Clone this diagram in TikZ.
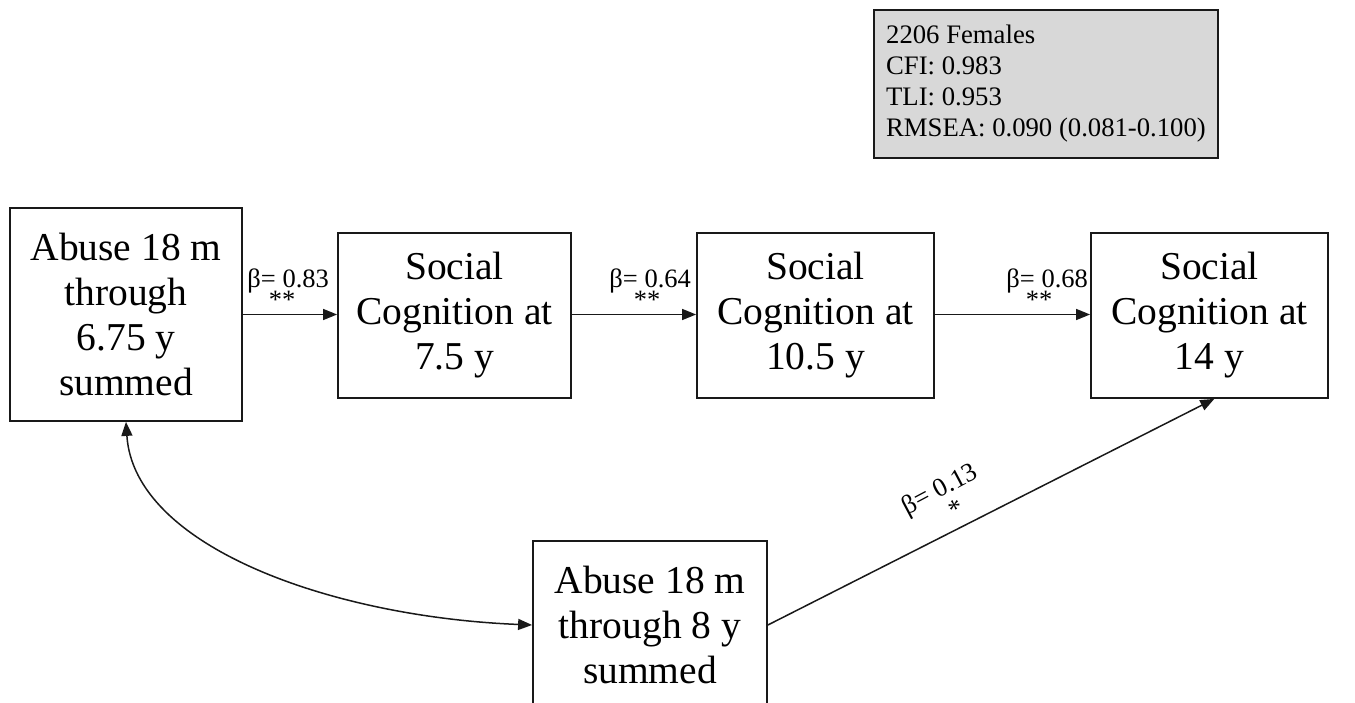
\documentclass[tikz,border=0pt]{standalone}
\usepackage{fontspec}
\setmainfont{Liberation Serif}
\usetikzlibrary{arrows.meta,calc}
\definecolor{statfill}{RGB}{216,216,216}
\definecolor{linecol}{RGB}{25,25,25}
\begin{document}
\begin{tikzpicture}[x=1pt,y=1pt,
  box/.style={draw=linecol, line width=1.8pt, align=center, inner sep=0pt,
    font=\fontsize{39.5}{45}\selectfont},
  tip/.tip={Triangle[length=14pt,width=11pt]},
  arr/.style={draw=linecol, line width=1.5pt, -tip},
  arr2/.style={draw=linecol, line width=1.5pt, tip-tip},
  lbl/.style={align=center, inner sep=0pt,
    font={\fontsize{26.5}{21}\selectfont\lineskiplimit=-100pt\lineskip=0pt}}]
\useasboundingbox (0,0) rectangle (1355,702);
\clip (0,0) rectangle (1355,702);

% stats box
\node[draw=linecol, line width=1.6pt, fill=statfill, minimum width=344pt,
  minimum height=148pt, inner xsep=8pt, inner ysep=0pt,
  align=left, font=\fontsize{26.7}{31}\selectfont] (fit) at (1046,618)
  {2206 Females\\CFI: 0.983\\TLI: 0.953\\RMSEA: 0.090 (0.081-0.100)};

% boxes
\node[box, minimum width=232pt, minimum height=213pt] (b1) at (126,387.5)
  {Abuse 18 m\\through\\6.75 y\\summed};
\node[box, minimum width=233pt, minimum height=165pt] (b2) at (454.5,386.5)
  {Social\\Cognition at\\7.5 y};
\node[box, minimum width=237pt, minimum height=165pt] (b3) at (815.5,386.5)
  {Social\\Cognition at\\10.5 y};
\node[box, minimum width=237pt, minimum height=165pt] (b4) at (1209.5,386.5)
  {Social\\Cognition at\\14 y};
\node[box, minimum width=234pt, minimum height=168pt] (bb) at (650,77)
  {Abuse 18 m\\through 8 y\\summed};

% horizontal paths
\draw[arr] (b1.east) -- (b1.east -| b2.west);
\node[lbl, anchor=east] (l1) at ([xshift=-8pt,yshift=26pt]b1.east -| b2.west)
  {β= 0.83\\\hspace*{-12pt}**};

\draw[arr] (b1.east -| b2.east) -- (b1.east -| b3.west);
\node[lbl, anchor=east] (l2) at ([xshift=-5pt,yshift=26pt]b1.east -| b3.west)
  {β= 0.64\\\hspace*{-6pt}**};

\draw[arr] (b1.east -| b3.east) -- (b1.east -| b4.west);
\node[lbl, anchor=east] (l3) at ([xshift=-2pt,yshift=26pt]b1.east -| b4.west)
  {β= 0.68\\\hspace*{-16pt}**};

% diagonal path
\coordinate (t4) at ($(b4.south west)!0.52!(b4.south east)$);
\draw[arr] (bb.east) -- (t4);
\path (bb.east) -- (t4) coordinate[pos=0.43] (dl);
\node[lbl, rotate=28] (l4) at ($(dl)!32pt!90:(t4)$)
  {β= 0.13\\[5pt]\hspace*{11pt}*};

% covariance
\draw[arr2] (b1.south) .. controls +(8,-125) and +(-200,8) .. (bb.west);
\end{tikzpicture}
\end{document}
